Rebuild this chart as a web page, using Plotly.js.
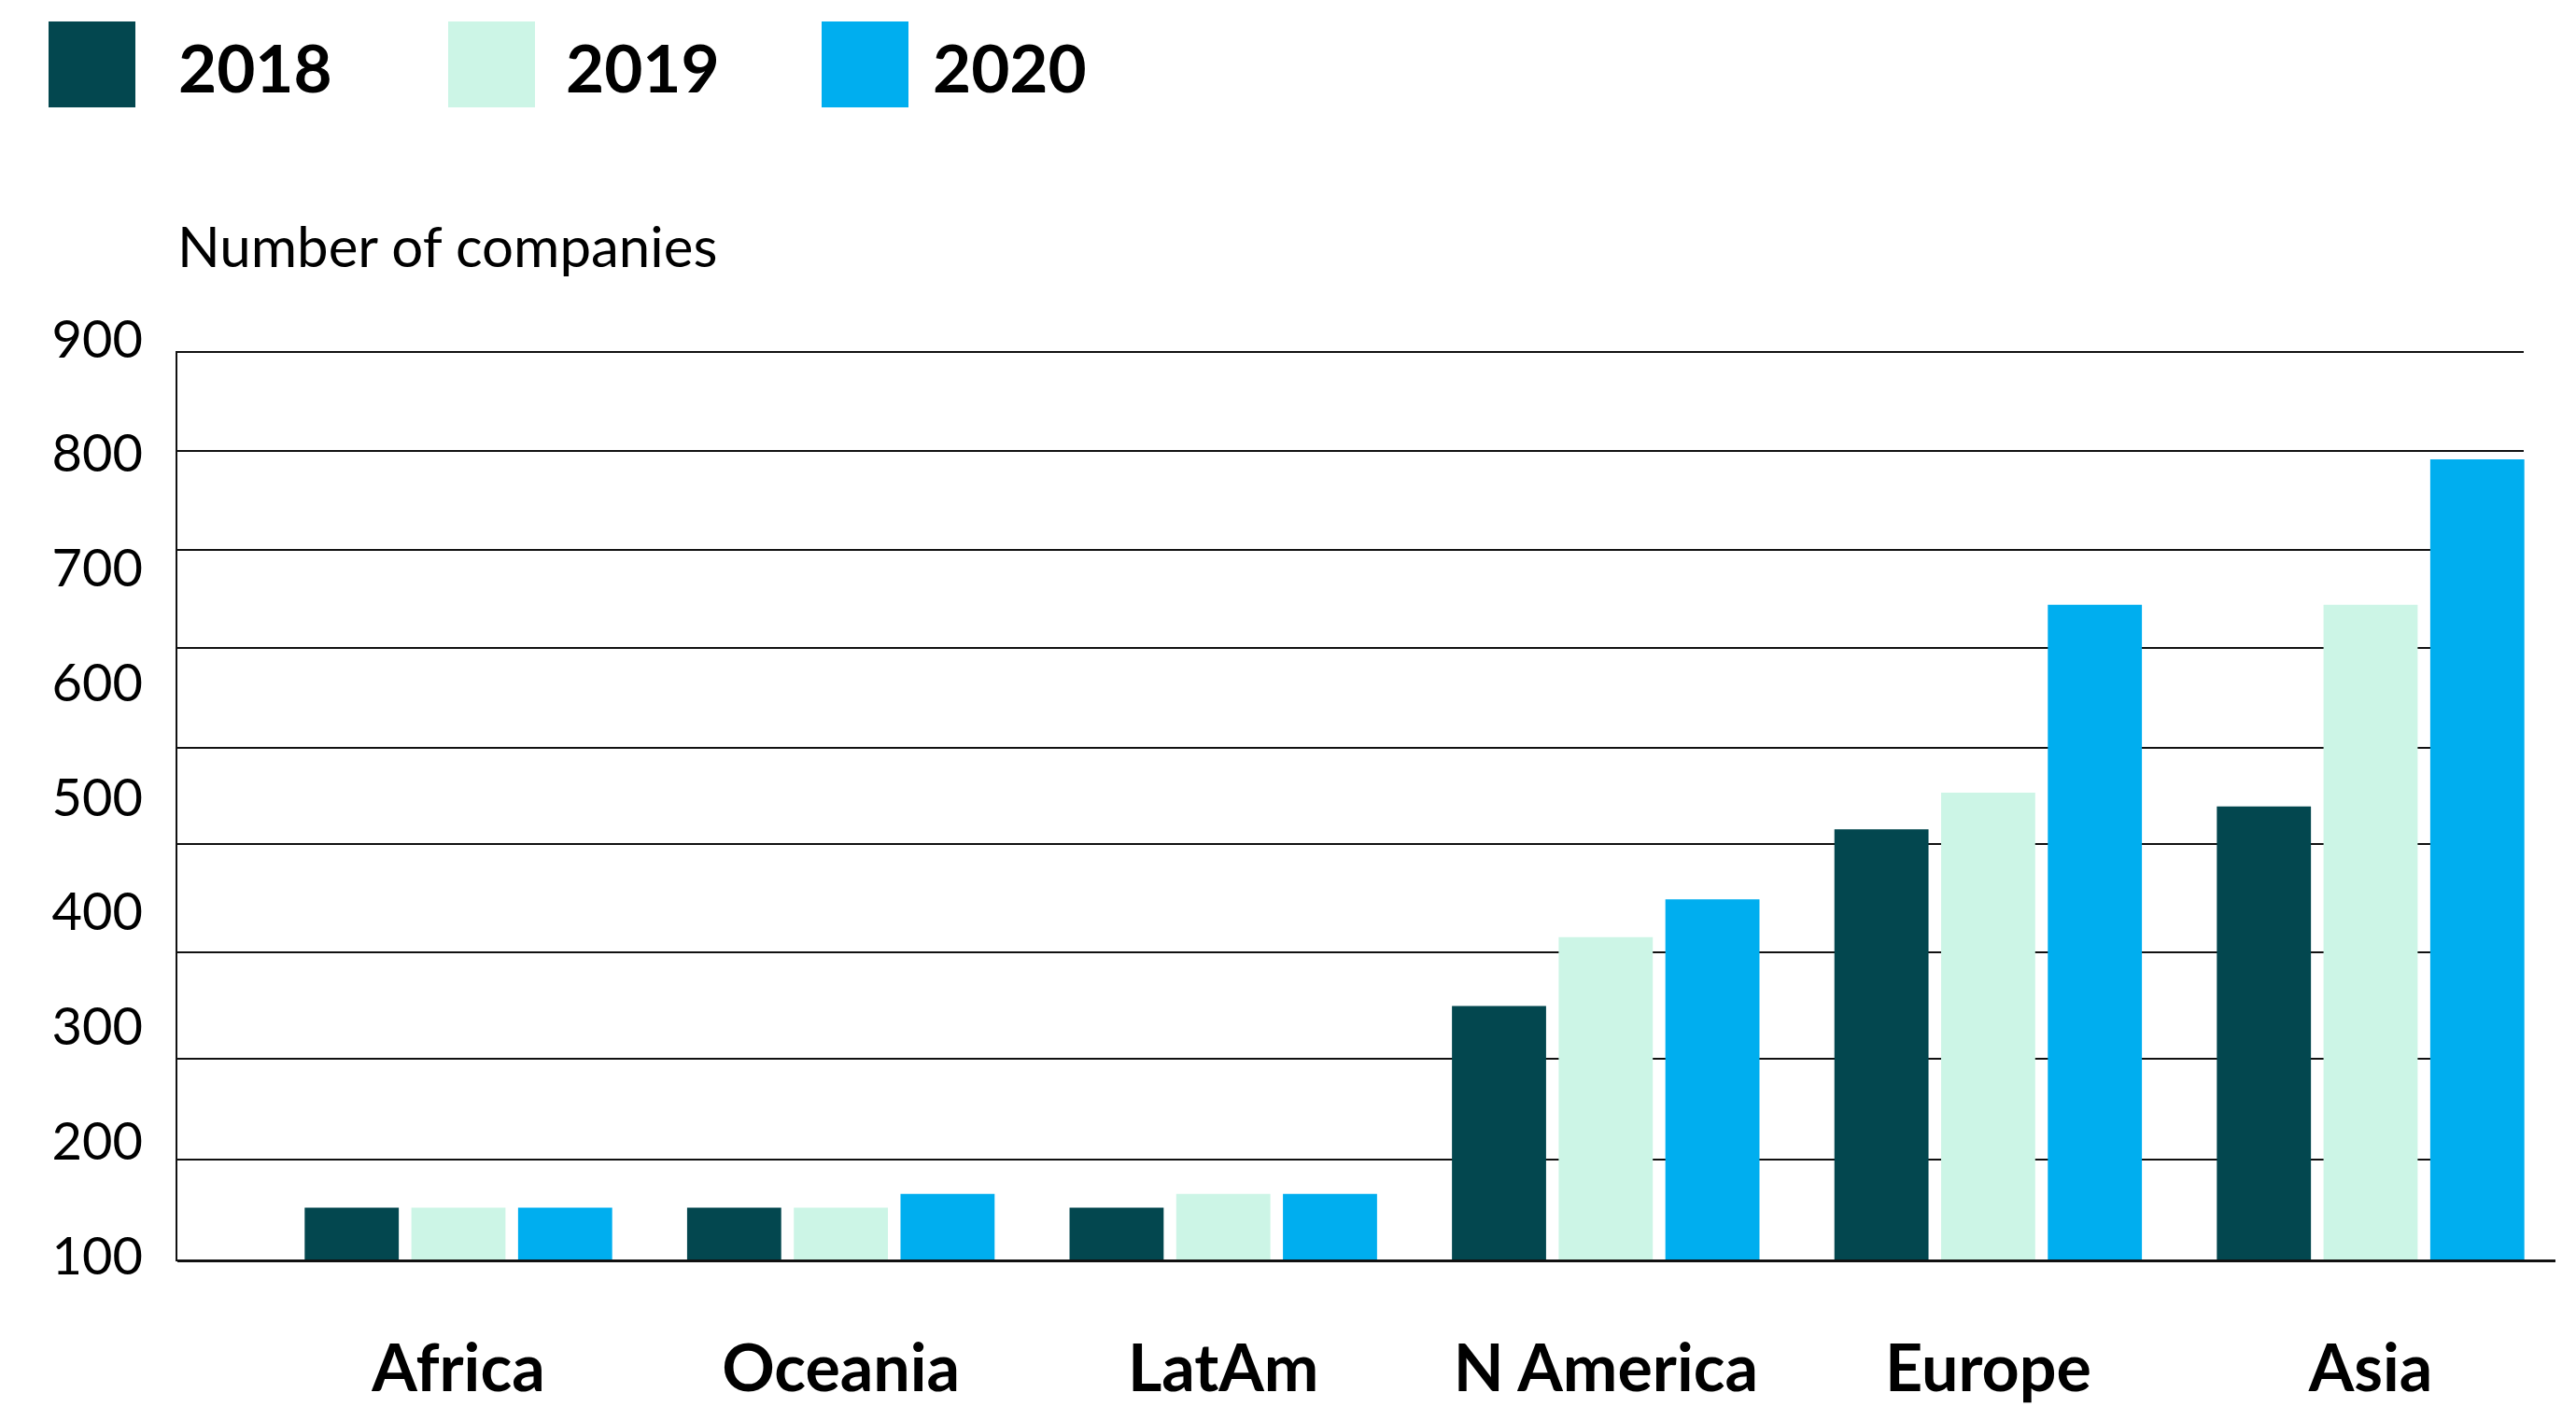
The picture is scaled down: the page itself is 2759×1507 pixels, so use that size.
<!DOCTYPE html>
<html>
<head>
<meta charset="utf-8">
<script src="https://cdn.plot.ly/plotly-3.0.1.min.js"></script>
<style>
  html, body { margin: 0; padding: 0; background: #ffffff; }
  #chart { width: 2759px; height: 1507px; }
</style>
</head>
<body>
<div id="chart"></div>
<script>
// ---------------- data ----------------
const regions = ["Africa", "Oceania", "LatAm", "N America", "Europe", "Asia"];
const years = ["2018", "2019", "2020"];
const values2018 = [142, 142, 142, 318, 472, 492];
const values2019 = [142, 142, 154, 378, 504, 668];
const values2020 = [142, 154, 154, 411, 668, 795];
const yTickValues = [100, 200, 300, 400, 500, 600, 700, 800, 900];
const gridLevels = [184, 272, 365, 459, 543, 630, 716, 802];
const yTitle = "Number of companies";

// ---------------- styles ----------------
const colors = ["#03474f", "#ccf5e6", "#00aeef"];
const FONT = "Lato, 'Open Sans', 'DejaVu Sans', sans-serif";

// ---------------- layout geometry ----------------
const W = 2759, H = 1507;
const L = 190, R = 22, T = 340, B = 158;
const PW = W - L - R, PH = H - T - B;
const px2x = p => (p - L) / PW;
const py2y = p => (H - B - p) / PH;

const yMin = 96.74;
const unitsPerPx = 100 / 122.75;
const gridTopPx = 378.3;
const gridRightPx = 2703;

const catWidthPx = 409.6;
const firstCatPx = 491;
const xMin = -(firstCatPx - L) / catWidthPx;
const xMax = xMin + PW / catWidthPx;

const series = [values2018, values2019, values2020];
const traces = series.map((vals, i) => ({
  type: "bar",
  name: years[i],
  x: regions,
  y: vals,
  xaxis: "x2",
  yaxis: "y2",
  marker: { color: colors[i], line: { width: 0 } },
  hoverinfo: "x+y+name",
  showlegend: false
}));

// empty trace so the gridline subplot is created
traces.unshift({
  type: "scatter", mode: "markers", x: [], y: [],
  xaxis: "x", yaxis: "y", showlegend: false, hoverinfo: "skip"
});

// custom legend (large squares + bold labels)
const legendSquareLeft = [52, 480, 880];
const legendTextLeft = [192, 607, 1000];
const shapes = years.map((yr, i) => ({
  type: "rect", xref: "paper", yref: "paper",
  x0: px2x(legendSquareLeft[i]), x1: px2x(legendSquareLeft[i] + 93),
  y0: py2y(115), y1: py2y(23),
  fillcolor: colors[i], line: { width: 0 }, layer: "above"
}));
const annotations = years.map((yr, i) => ({
  text: yr, xref: "paper", yref: "paper",
  x: px2x(legendTextLeft[i] - 3), y: py2y(71),
  xanchor: "left", yanchor: "middle", showarrow: false,
  font: { family: FONT, size: 71, color: "#000000", weight: 700 }
}));
annotations.push({
  text: yTitle, xref: "paper", yref: "paper",
  x: px2x(188), y: py2y(263),
  xanchor: "left", yanchor: "middle", showarrow: false,
  font: { family: FONT, size: 60, color: "#000000" }
});

const layout = {
  width: W, height: H,
  paper_bgcolor: "#ffffff",
  plot_bgcolor: "rgba(0,0,0,0)",
  margin: { l: L, r: R, t: T, b: B, pad: 0 },
  barmode: "group",
  bargap: 0.163,
  bargroupgap: 0.118,
  showlegend: false,
  font: { family: FONT, color: "#000000" },
  // gridline subplot
  xaxis: {
    domain: [0, px2x(gridRightPx)],
    range: [0, 1],
    showgrid: false, zeroline: false, showticklabels: false, ticks: "",
    showline: true, mirror: true, linecolor: "#111111", linewidth: 2,
    fixedrange: true
  },
  yaxis: {
    domain: [0, py2y(gridTopPx)],
    range: [yMin, yMin + (H - B - gridTopPx) * unitsPerPx],
    tickmode: "array", tickvals: gridLevels,
    showgrid: true, gridcolor: "#111111", gridwidth: 2,
    zeroline: false, showticklabels: false, ticks: "",
    showline: true, linecolor: "#111111", linewidth: 2,
    fixedrange: true
  },
  // bar subplot
  xaxis2: {
    domain: [0, 1],
    anchor: "y2",
    type: "category",
    range: [xMin, xMax],
    showgrid: false, zeroline: false, ticks: "",
    showline: true, linecolor: "#111111", linewidth: 3,
    tickfont: { family: FONT, size: 70, color: "#000000", weight: 700 },
    ticklabelstandoff: 54,
    fixedrange: true
  },
  yaxis2: {
    domain: [0, 1],
    anchor: "x2",
    range: [yMin, yMin + PH * unitsPerPx],
    tickmode: "array", tickvals: yTickValues,
    ticktext: yTickValues.map(String),
    showgrid: false, zeroline: false, showline: false, ticks: "",
    tickfont: { family: FONT, size: 56, color: "#000000" },
    ticklabelstandoff: 36,
    fixedrange: true
  },
  shapes: shapes,
  annotations: annotations
};

Plotly.newPlot("chart", traces, layout, { displayModeBar: false, staticPlot: true });
</script>
</body>
</html>
